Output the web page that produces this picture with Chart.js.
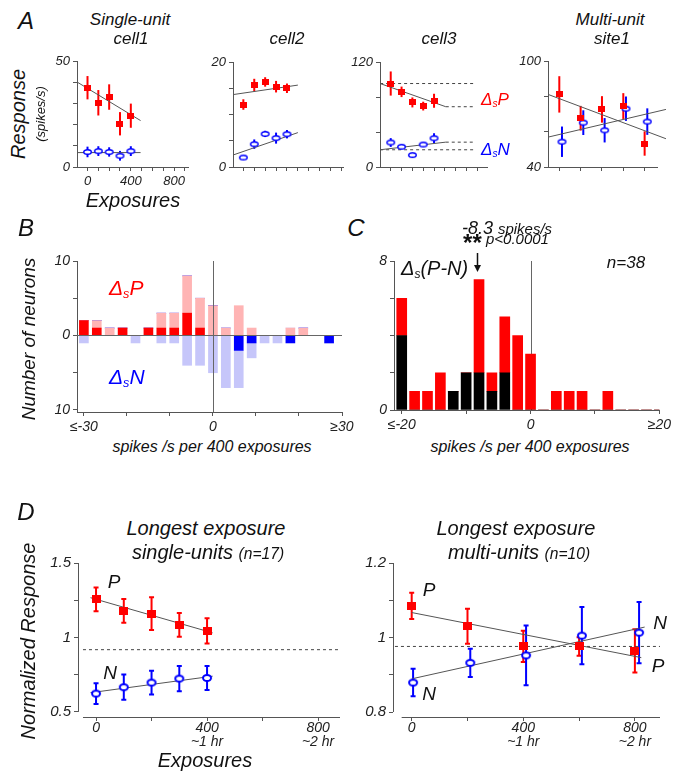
<!DOCTYPE html>
<html>
<head>
<meta charset="utf-8">
<title>Exposure effects on P and N responses</title>
<script src="https://cdn.jsdelivr.net/npm/chart.js@4.4.1/dist/chart.umd.min.js"></script>
<style>
  body { margin: 0; background: #fff; }
  #fig { position: relative; width: 674px; height: 772px; overflow: hidden;
         font-family: "Liberation Sans", Arial, sans-serif; font-style: italic; color: #111; }
  #fig canvas { position: absolute; }
  .t { position: absolute; white-space: nowrap; line-height: 1; transform: translate(-50%, -50%); }
  .l { position: absolute; white-space: nowrap; line-height: 1; transform: translate(0, -50%); }
  .v { position: absolute; white-space: nowrap; line-height: 1; transform: translate(-50%, -50%) rotate(-90deg); }
  .sub { font-size: 60%; vertical-align: -0.25em; }
  .sm { font-size: 78%; }
  .red { color: #f00; }
  .blue { color: #00f; }
</style>
</head>
<body>
<div id="fig">
  <canvas id="a1"></canvas>
  <canvas id="a2"></canvas>
  <canvas id="a3"></canvas>
  <canvas id="a4"></canvas>
  <canvas id="b"></canvas>
  <canvas id="c"></canvas>
  <canvas id="d1"></canvas>
  <canvas id="d2"></canvas>

  <div class="t" style="left:26px;top:21px;font-size:24px">A</div>
  <div class="t" style="left:130px;top:19px;font-size:17px">Single-unit</div>
  <div class="t" style="left:131px;top:38px;font-size:17px">cell1</div>
  <div class="t" style="left:287px;top:38px;font-size:17px">cell2</div>
  <div class="t" style="left:439px;top:38px;font-size:17px">cell3</div>
  <div class="t" style="left:610px;top:19px;font-size:17px">Multi-unit</div>
  <div class="t" style="left:612px;top:38px;font-size:17px">site1</div>
  <div class="v" style="left:18px;top:114px;font-size:20px">Response</div>
  <div class="v" style="left:40px;top:114px;font-size:13px">(spikes/s)</div>
  <div class="t" style="left:133px;top:200px;font-size:20px">Exposures</div>
  <div class="l red" style="left:481px;top:100px;font-size:17px">&Delta;<span class="sub">s</span>P</div>
  <div class="l blue" style="left:481px;top:150px;font-size:17px">&Delta;<span class="sub">s</span>N</div>

  <div class="t" style="left:26px;top:228px;font-size:24px">B</div>
  <div class="v" style="left:28px;top:339px;font-size:19px">Number of neurons</div>
  <div class="l red" style="left:109px;top:289px;font-size:21px">&Delta;<span class="sub">s</span>P</div>
  <div class="l blue" style="left:109px;top:378px;font-size:21px">&Delta;<span class="sub">s</span>N</div>
  <div class="t" style="left:212px;top:447px;font-size:16px">spikes /s per 400 exposures</div>

  <div class="t" style="left:356px;top:228px;font-size:24px">C</div>
  <div class="t" style="left:507px;top:228px;font-size:18px">-8.3 <span style="font-size:15px">spikes/s</span></div>
  <div class="t" style="left:506px;top:243px;font-size:15px"><span style="font-size:24px;font-weight:bold;font-style:normal;vertical-align:-0.3em">**</span> p&lt;0.0001</div>
  <div class="l" style="left:401px;top:269px;font-size:20px">&Delta;<span class="sub">s</span>(P-N)</div>
  <div class="t" style="left:626px;top:262px;font-size:17px">n=38</div>
  <div class="t" style="left:530px;top:447px;font-size:16px">spikes /s per 400 exposures</div>

  <div class="t" style="left:26px;top:512px;font-size:24px">D</div>
  <div class="t" style="left:206px;top:528px;font-size:20px">Longest exposure</div>
  <div class="t" style="left:208px;top:552px;font-size:20px">single-units <span class="sm">(n=17)</span></div>
  <div class="t" style="left:516px;top:528px;font-size:20px">Longest exposure</div>
  <div class="t" style="left:519px;top:552px;font-size:20px">multi-units <span class="sm">(n=10)</span></div>
  <div class="v" style="left:28px;top:641px;font-size:20px">Normalized Response</div>
  <div class="t" style="left:114px;top:581px;font-size:19px">P</div>
  <div class="t" style="left:110px;top:672px;font-size:19px">N</div>
  <div class="t" style="left:205px;top:760px;font-size:20px">Exposures</div>
  <div class="t" style="left:429px;top:589px;font-size:19px">P</div>
  <div class="t" style="left:429px;top:693px;font-size:19px">N</div>
  <div class="t" style="left:660px;top:622px;font-size:19px">N</div>
  <div class="t" style="left:658px;top:665px;font-size:19px">P</div>
</div>

<script>
// ---------- A: example sites (spikes/s vs exposures) ----------
const expA = [0, 100, 200, 300, 400];
const expSite = [0, 200, 400, 600, 800];
const expSiteN = [25, 225, 425, 625, 825];

const cell1P = [37.4, 30.3, 33.0, 20.4, 24.2];
const cell1PErr = [5.5, 6.0, 6.0, 5.5, 5.7];
const cell1N = [7.1, 7.5, 7.1, 5.3, 7.5];
const cell1NErr = [2.5, 2.3, 2.2, 2.3, 2.3];
const cell1FitX = [-97, 490];
const cell1FitP = [40.1, 21.9];
const cell1FitN = [6.8, 6.8];

const cell2P = [11.9, 15.6, 16.2, 15.3, 15.0];
const cell2PErr = [1.0, 1.2, 0.9, 1.1, 0.9];
const cell2N = [1.8, 4.35, 6.3, 5.5, 6.25];
const cell2NErr = [0.3, 0.9, 0.6, 1.05, 0.8];
const cell2FitX = [-92, 500];
const cell2FitP = [13.8, 15.6];
const cell2FitN = [2.3, 6.55];

const cell3P = [95.4, 85.9, 73.8, 69.6, 75.7];
const cell3PErr = [13.8, 6.0, 5.7, 5.0, 8.0];
const cell3N = [28.0, 23.1, 13.6, 25.7, 32.9];
const cell3NErr = [5.0, 2.5, 1.5, 2.5, 5.7];
const cell3FitX = [-98, 508];
const cell3FitP = [95.4, 68.9];
const cell3FitN = [19.7, 28.4];
const cell3GuideEnd = 780;

const site1P = [81.1, 67.6, 72.6, 74.5, 53.3];
const site1PErr = [10.3, 7.0, 7.5, 7.3, 6.9];
const site1N = [54.3, 65.1, 60.8, 73.0, 65.7];
const site1NErr = [8.6, 7.0, 6.9, 6.9, 7.5];
const site1FitX = [-106, 1000];
const site1FitP = [81.1, 56.0];
const site1FitN = [56.9, 72.6];

// ---------- B: histogram of slopes for P (up) and N (down) ----------
const binsB = [-30, -27, -24, -21, -18, -15, -12, -9, -6, -3, 0, 3, 6, 9, 12, 15, 18, 21, 24, 27, 30];
const pSig    = [2, 1, 0, 1, 0, 1, 1, 1, 3, 1, 0, 0, 0, 0, 0, 0, 0, 0, 0, 0, 0];
const pNonSig = [0, 1, 1, 0, 0, 0, 2, 2, 5, 4, 4, 1, 4, 1, 0, 0, 1, 1, 0, 0, 0];
const nSig    = [0, 0, 0, 0, 0, 0, 0, 0, 0, 0, 0, 0, 2, 1, 0, 0, 1, 0, 0, 1, 0];
const nNonSig = [1, 0, 0, 0, 1, 0, 1, 1, 4, 4, 5, 7, 5, 2, 1, 1, 0, 0, 0, 0, 0];

// ---------- C: histogram of P-N differences ----------
const binsC = [-20, -18, -16, -14, -12, -10, -8, -6, -4, -2, 0, 2, 4, 6, 8, 10, 12, 14, 16, 18, 20];
const pnDark = [4, 0, 0, 0, 1, 2, 2, 1, 2, 0, 0, 0, 0, 0, 0, 0, 0, 0, 0, 0, 0];
const pnRed  = [2, 1, 1, 2, 0, 0, 5, 1, 3, 4, 3, 0, 1, 1, 1, 0, 1, 0, 0, 0, 0];
const meanPN = -8.3;

// ---------- D: population, normalized response ----------
const expD1 = [0, 100, 200, 300, 400];
const d1P = [1.256, 1.178, 1.16, 1.084, 1.044];
const d1PErr = [0.08, 0.08, 0.11, 0.08, 0.085];
const d1N = [0.623, 0.666, 0.697, 0.724, 0.728];
const d1NErr = [0.07, 0.085, 0.08, 0.085, 0.08];
const d1FitX = [-20, 420];
const d1FitP = [1.267, 1.031];
const d1FitN = [0.629, 0.740];
const d1Ref = 0.918;

const expD2P = [0, 200, 400, 600, 800];
const expD2N = [5, 210, 410, 610, 815];
const d2P = [1.085, 1.03, 0.976, 0.976, 0.964];
const d2PErr = [0.035, 0.047, 0.042, 0.025, 0.058];
const d2N = [0.879, 0.932, 0.952, 1.005, 1.013];
const d2NErr = [0.037, 0.038, 0.08, 0.077, 0.082];
const d2FitPX = [0, 823];
const d2FitP = [1.067, 0.946];
const d2FitNX = [0, 835];
const d2FitN = [0.889, 1.028];
const d2Ref = 0.976;

const hourNotes = { 400: '~1 hr', 800: '~2 hr' };

const RED = '#ff0000', BLUE = '#0000ff', PINK = '#ffb4b4', LBLUE = '#c6c6fa';
const FIT = '#555', AX = '#555';
const FONT = '"Liberation Sans", Arial, sans-serif';
const PAD_TOP = 16;

Chart.defaults.font.family = FONT;
Chart.defaults.font.style = 'italic';
Chart.defaults.color = '#222';

function rectMark(w, h, color) {
  const c = document.createElement('canvas');
  c.width = w; c.height = h;
  const g = c.getContext('2d');
  g.fillStyle = color;
  g.fillRect(0, 0, w, h);
  return c;
}
function ovalMark(w, h, color, lw) {
  const c = document.createElement('canvas');
  c.width = w + 2; c.height = h + 2;
  const g = c.getContext('2d');
  g.fillStyle = '#fff';
  g.strokeStyle = color;
  g.lineWidth = lw;
  g.beginPath();
  g.ellipse((w + 2) / 2, (h + 2) / 2, (w - lw) / 2, (h - lw) / 2, 0, 0, Math.PI * 2);
  g.fill();
  g.stroke();
  return c;
}
const sqA = rectMark(7, 6, RED), ovA = ovalMark(9, 6, BLUE, 1.5);
const sqD = rectMark(9, 8, RED), ovD = ovalMark(10, 8, BLUE, 2);

function pts(xs, ys) { return xs.map((x, i) => ({ x: x, y: ys[i] })); }

function markers(xs, ys, errs, mark, color, cap) {
  return {
    type: 'scatter', data: pts(xs, ys), err: errs, errColor: color, cap: cap || 0,
    pointStyle: mark, pointRadius: 5, pointHoverRadius: 5, showLine: false
  };
}
function segment(xs, ys, color, dash) {
  return {
    type: 'line', data: pts(xs, ys), borderColor: color, borderWidth: 1,
    borderDash: dash || [], pointRadius: 0, fill: false, clip: false, tension: 0
  };
}
function only(map) { return v => (map[v] !== undefined ? map[v] : ''); }

function scale(min, max, tickVals, label, size, fit, extra) {
  return Object.assign({
    type: 'linear', min: min, max: max,
    afterBuildTicks: s => { s.ticks = tickVals.map(v => ({ value: v })); },
    afterFit: s => { if (s.isHorizontal()) s.height = fit; else s.width = fit; },
    ticks: { autoSkip: false, maxRotation: 0, minRotation: 0, padding: 3,
             font: { size: size }, color: '#222', callback: label },
    grid: { drawOnChartArea: false, tickLength: 4, tickColor: AX, lineWidth: 1, offset: false },
    border: { display: true, color: AX, width: 1 }
  }, extra || {});
}

// error bars drawn under the markers
const errorBars = {
  id: 'errorBars',
  beforeDatasetsDraw(chart) {
    const ctx = chart.ctx, ys = chart.scales.y;
    chart.data.datasets.forEach((ds, i) => {
      if (!ds.err) return;
      const meta = chart.getDatasetMeta(i);
      ctx.save();
      ctx.strokeStyle = ds.errColor;
      ctx.lineWidth = 2;
      meta.data.forEach((pt, j) => {
        const v = ds.data[j].y, e = ds.err[j];
        const top = ys.getPixelForValue(v + e), bot = ys.getPixelForValue(v - e);
        ctx.beginPath();
        ctx.moveTo(pt.x, top); ctx.lineTo(pt.x, bot);
        if (ds.cap) {
          ctx.moveTo(pt.x - ds.cap, top); ctx.lineTo(pt.x + ds.cap, top);
          ctx.moveTo(pt.x - ds.cap, bot); ctx.lineTo(pt.x + ds.cap, bot);
        }
        ctx.stroke();
      });
      ctx.restore();
    });
  }
};

// spines separated from the plot corner (panel D), plus the time notes under the ticks
function offsetSpines(yLo, yHi, xLo) {
  return {
    id: 'offsetSpines',
    afterDraw(chart) {
      const { ctx, chartArea: a, scales: { x, y } } = chart;
      ctx.save();
      ctx.strokeStyle = AX;
      ctx.lineWidth = 1;
      const lx = Math.round(a.left) + 0.5, by = Math.round(a.bottom) + 0.5;
      ctx.beginPath();
      ctx.moveTo(lx, y.getPixelForValue(yHi));
      ctx.lineTo(lx, y.getPixelForValue(yLo));
      ctx.moveTo(x.getPixelForValue(xLo), by);
      ctx.lineTo(a.right, by);
      ctx.stroke();
      ctx.fillStyle = '#222';
      ctx.font = 'italic 14px ' + FONT;
      ctx.textAlign = 'center';
      ctx.textBaseline = 'middle';
      Object.keys(hourNotes).forEach(k => {
        ctx.fillText(hourNotes[k], x.getPixelForValue(+k), a.bottom + 25);
      });
      ctx.restore();
    }
  };
}

function build(id, type, area, yW, xH, padR, datasets, scales, plugins) {
  const c = document.getElementById(id);
  const w = area.r - area.l + yW + padR, h = area.b - area.t + PAD_TOP + xH;
  c.width = w; c.height = h;
  c.style.width = w + 'px'; c.style.height = h + 'px';
  c.style.left = (area.l - yW) + 'px'; c.style.top = (area.t - PAD_TOP) + 'px';
  return new Chart(c, {
    type: type,
    data: { datasets: datasets },
    options: {
      responsive: false, devicePixelRatio: 1, animation: false,
      layout: { padding: { top: PAD_TOP, right: padR, left: 0, bottom: 0 } },
      plugins: { legend: { display: false }, tooltip: { enabled: false } },
      scales: scales
    },
    plugins: [errorBars].concat(plugins || [])
  });
}

const hundreds = [0, 100, 200, 300, 400, 500, 600, 700, 800, 900];

// A1 cell1
build('a1', 'scatter', { l: 77, t: 61, r: 188, b: 167 }, 30, 24, 12, [
  markers(expA, cell1P, cell1PErr, sqA, RED),
  markers(expA, cell1N, cell1NErr, ovA, BLUE),
  segment(cell1FitX, cell1FitP, FIT),
  segment(cell1FitX, cell1FitN, FIT)
], {
  x: scale(-97, 928, hundreds, only({ 0: '0', 400: '400', 800: '800' }), 13, 24),
  y: scale(0, 50, [0, 10, 20, 30, 40, 50], only({ 0: '0', 50: '50' }), 13, 30)
});

// A2 cell2
build('a2', 'scatter', { l: 233, t: 62, r: 343, b: 167 }, 30, 24, 12, [
  markers(expA, cell2P, cell2PErr, sqA, RED),
  markers(expA, cell2N, cell2NErr, ovA, BLUE),
  segment(cell2FitX, cell2FitP, FIT),
  segment(cell2FitX, cell2FitN, FIT)
], {
  x: scale(-95, 914, hundreds, only({}), 13, 24),
  y: scale(0, 20, [0, 5, 10, 15, 20], only({ 0: '0', 20: '20' }), 13, 30)
});

// A3 cell3
build('a3', 'scatter', { l: 380, t: 62, r: 487, b: 167 }, 30, 24, 12, [
  markers(expA, cell3P, cell3PErr, sqA, RED),
  markers(expA, cell3N, cell3NErr, ovA, BLUE),
  segment(cell3FitX, cell3FitP, FIT),
  segment(cell3FitX, cell3FitN, FIT),
  segment([cell3FitX[0], cell3GuideEnd], [cell3FitP[0], cell3FitP[0]], '#444', [3, 3]),
  segment([cell3FitX[1], cell3GuideEnd], [cell3FitP[1], cell3FitP[1]], '#444', [3, 3]),
  segment([cell3FitX[0], cell3GuideEnd], [cell3FitN[0], cell3FitN[0]], '#444', [3, 3]),
  segment([cell3FitX[1], cell3GuideEnd], [cell3FitN[1], cell3FitN[1]], '#444', [3, 3])
], {
  x: scale(-99, 889, [0, 100, 200, 300, 400, 500, 600, 700, 800], only({}), 13, 24),
  y: scale(0, 120, [0, 40, 80, 120], only({ 0: '0', 120: '120' }), 13, 30)
});

// A4 site1
build('a4', 'scatter', { l: 548, t: 61, r: 657, b: 167 }, 30, 24, 14, [
  markers(expSite, site1P, site1PErr, sqA, RED),
  markers(expSiteN, site1N, site1NErr, ovA, BLUE),
  segment(site1FitX, site1FitP, FIT),
  segment(site1FitX, site1FitN, FIT)
], {
  x: scale(-106, 916, [0, 200, 400, 600, 800], only({}), 13, 24),
  y: scale(40, 100, [40, 60, 80, 100], only({ 40: '40', 100: '100' }), 13, 30)
});

// B histogram (P up, N down)
const zeroCross = {
  id: 'zeroCross',
  afterDatasetsDraw(chart) {
    const { ctx, chartArea: a, scales: { x, y } } = chart;
    const x0 = Math.round(x.getPixelForValue(0)) + 0.5, y0 = Math.round(y.getPixelForValue(0)) + 0.5;
    ctx.save();
    ctx.strokeStyle = '#666';
    ctx.lineWidth = 1;
    ctx.beginPath();
    ctx.moveTo(a.left, y0); ctx.lineTo(a.right, y0);
    ctx.moveTo(x0, a.top); ctx.lineTo(x0, a.bottom);
    ctx.stroke();
    ctx.restore();
  }
};
function bars(bins, counts, color, sign, thick) {
  return {
    type: 'bar', data: bins.map((b, i) => ({ x: b, y: sign * counts[i] })),
    backgroundColor: color, borderWidth: 0, barThickness: thick
  };
}
build('b', 'bar', { l: 77, t: 261, r: 342, b: 412 }, 30, 26, 22, [
  bars(binsB, pSig, RED, 1, 9),
  bars(binsB, pNonSig, PINK, 1, 9),
  bars(binsB, nSig, BLUE, -1, 9),
  bars(binsB, nNonSig, LBLUE, -1, 9)
], {
  x: scale(-31.6, 30, [-30, -20, -10, 0, 10, 20, 30], only({ '-30': '\u2264-30', 0: '0', 30: '\u226530' }), 14, 26, { stacked: true, offset: false }),
  y: scale(-10.27, 10, [-10, -5, 0, 5, 10], only({ '-10': '10', 0: '0', 10: '10' }), 14, 30, { stacked: true })
}, [zeroCross]);

// C histogram of P-N
const zeroAndMean = {
  id: 'zeroAndMean',
  beforeDatasetsDraw(chart) {
    const { ctx, chartArea: a, scales: { x } } = chart;
    const x0 = Math.round(x.getPixelForValue(0)) + 0.5;
    ctx.save();
    ctx.strokeStyle = '#666';
    ctx.lineWidth = 1;
    ctx.beginPath();
    ctx.moveTo(x0, a.top); ctx.lineTo(x0, a.bottom);
    ctx.stroke();
    ctx.restore();
  },
  afterDraw(chart) {
    const { ctx, chartArea: a, scales: { x } } = chart;
    const xm = Math.round(x.getPixelForValue(meanPN)) + 0.5;
    ctx.save();
    ctx.strokeStyle = '#111';
    ctx.fillStyle = '#111';
    ctx.lineWidth = 1.5;
    ctx.beginPath();
    ctx.moveTo(xm, a.top - 8); ctx.lineTo(xm, a.top + 6);
    ctx.stroke();
    ctx.beginPath();
    ctx.moveTo(xm - 3.5, a.top + 4); ctx.lineTo(xm + 3.5, a.top + 4); ctx.lineTo(xm, a.top + 11);
    ctx.closePath();
    ctx.fill();
    ctx.restore();
  }
};
build('c', 'bar', { l: 394, t: 261, r: 660, b: 410 }, 30, 26, 14, [
  bars(binsC, pnDark, '#000', 1, 10),
  bars(binsC, pnRed, RED, 1, 10)
], {
  x: scale(-21.2, 20, [-20, -10, 0, 10, 20], only({ '-20': '\u2264-20', 0: '0', 20: '\u226520' }), 14, 26, { stacked: true, offset: false }),
  y: scale(0, 8, [0, 2, 4, 6, 8], only({ 0: '0', 8: '8' }), 14, 30, { stacked: true })
}, [zeroAndMean]);

// D: x labels sit close under the detached axis line
function dAxisX(min, max) {
  const s = scale(min, max, [0, 200, 400, 600, 800], only({ 0: '0', 400: '400', 800: '800' }), 14, 42,
                  { border: { display: false } });
  s.ticks.padding = 0;
  s.ticks.font = { size: 14, lineHeight: 1 };
  return s;
}

// D1 single units
build('d1', 'scatter', { l: 78, t: 563, r: 340, b: 717 }, 40, 42, 14, [
  markers(expD1, d1P, d1PErr, sqD, RED, 2.5),
  markers(expD1, d1N, d1NErr, ovD, BLUE, 2.5),
  segment(d1FitX, d1FitP, FIT),
  segment(d1FitX, d1FitN, FIT),
  segment([-47, 879], [d1Ref, d1Ref], '#444', [3, 3])
], {
  x: dAxisX(-65, 879),
  y: scale(0.466, 1.5, [0.5, 0.75, 1, 1.25, 1.5], only({ 0.5: '0.5', 1: '1', 1.5: '1.5' }), 15, 40, { border: { display: false } })
}, [offsetSpines(0.5, 1.5, -47)]);

// D2 multi units
build('d2', 'scatter', { l: 393, t: 563, r: 660, b: 717 }, 40, 42, 14, [
  markers(expD2P, d2P, d2PErr, sqD, RED, 2.5),
  markers(expD2N, d2N, d2NErr, ovD, BLUE, 2.5),
  segment(d2FitPX, d2FitP, FIT),
  segment(d2FitNX, d2FitN, FIT),
  segment([-60, 890], [d2Ref, d2Ref], '#444', [3, 3])
], {
  x: dAxisX(-67, 890),
  y: scale(0.7866, 1.2, [0.8, 0.9, 1, 1.1, 1.2], only({ 0.8: '0.8', 1: '1', 1.2: '1.2' }), 15, 40, { border: { display: false } })
}, [offsetSpines(0.8, 1.2, -36)]);
</script>
</body>
</html>
